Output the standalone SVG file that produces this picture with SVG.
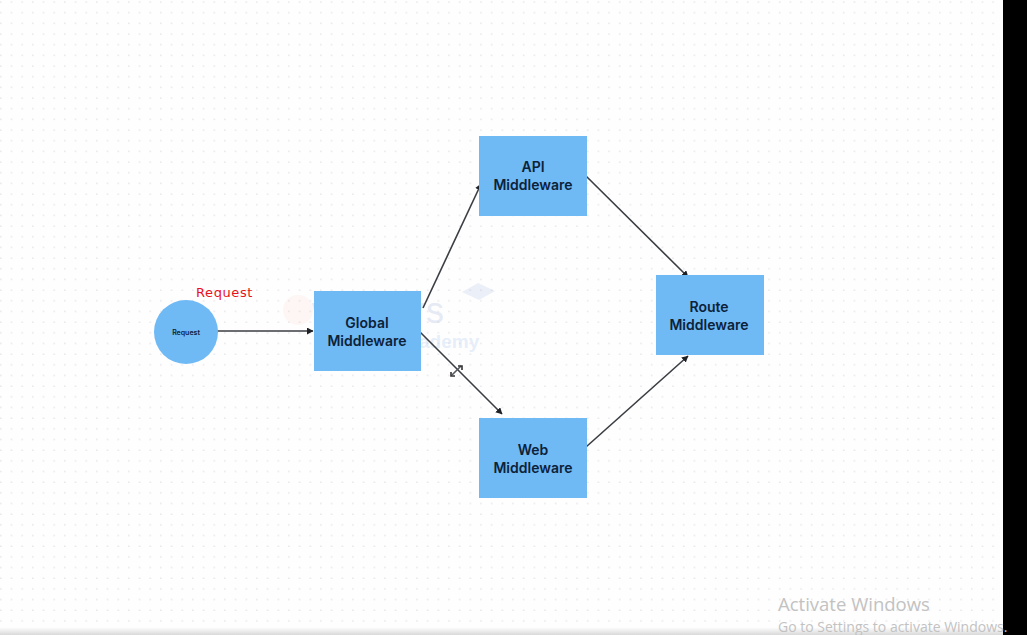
<svg xmlns="http://www.w3.org/2000/svg" width="1027" height="635" viewBox="0 0 1027 635">
<style>
.box{fill:#6fb9f5}
.lbl{font-family:"Inter","Liberation Sans",sans-serif;font-size:14px;font-weight:600;fill:#0d2238;text-anchor:middle}
.edge{fill:none;stroke:#3a3d42;stroke-width:1.6;marker-end:url(#arr)}
</style>
<defs>
<pattern id="dots" width="10.67" height="10.67" patternUnits="userSpaceOnUse" x="0" y="-3">
<circle cx="0.8" cy="5" r="0.9" fill="#e9e6ec"/>
</pattern>
<marker id="arr" markerWidth="8" markerHeight="8" refX="6" refY="3.5" orient="auto" markerUnits="userSpaceOnUse">
<path d="M0 0L6.5 3.5L0 7z" fill="#1e2126"/>
</marker>
<linearGradient id="band" x1="0" y1="0" x2="0" y2="1">
<stop offset="0" stop-color="#ffffff"/>
<stop offset="1" stop-color="#d9d9d9"/>
</linearGradient>
</defs>
<rect width="1027" height="635" fill="#fefefe"/>
<rect width="1003" height="635" fill="url(#dots)"/>
<g id="watermark" opacity="0.16">
<circle cx="298" cy="310" r="15" fill="#f3b49a" opacity="0.6"/>
<path d="M462 292L478 283L495 291L479 300z" fill="#8fa6dc"/>
<text x="379" y="323" font-family="Liberation Sans,sans-serif" font-size="36" fill="#6f86c9" text-anchor="middle" letter-spacing="2">wedevs</text>
<text x="437" y="348" font-family="Liberation Sans,sans-serif" font-size="19" font-weight="700" fill="#6f9fe0" text-anchor="middle">Academy</text>
</g>
<g id="connectors">
<line class="edge" x1="212" y1="331" x2="313" y2="331"/>
<line class="edge" x1="423" y1="308" x2="481" y2="184"/>
<line class="edge" x1="416" y1="328" x2="502" y2="414"/>
<line class="edge" x1="586" y1="176" x2="688" y2="277"/>
<line class="edge" x1="586" y1="447" x2="688" y2="356"/>
</g>
<g id="node-request">
<circle class="box" cx="186" cy="332" r="32"/>
<text x="186" y="334.500" font-family="Inter,Liberation Sans,sans-serif" font-size="7" font-weight="600" fill="#0d2238" text-anchor="middle">Request</text>
</g>
<text id="request-label" x="196" y="297" font-family="DejaVu Sans,sans-serif" font-size="13" letter-spacing="0.6" fill="#e8121a">Request</text>
<g id="node-global">
<rect class="box" x="314" y="291" width="107" height="80"/>
<text class="lbl" x="367" y="328">Global</text>
<text class="lbl" x="367" y="346">Middleware</text>
</g>
<g id="node-api">
<rect class="box" x="479" y="136" width="108" height="80"/>
<text class="lbl" x="533" y="172">API</text>
<text class="lbl" x="533" y="190">Middleware</text>
</g>
<g id="node-web">
<rect class="box" x="479" y="418" width="108" height="80"/>
<text class="lbl" x="533" y="455">Web</text>
<text class="lbl" x="533" y="473">Middleware</text>
</g>
<g id="node-route">
<rect class="box" x="656" y="275" width="108" height="80"/>
<text class="lbl" x="709" y="312">Route</text>
<text class="lbl" x="709" y="330">Middleware</text>
</g>
<g id="cursor" stroke="#55585c" stroke-width="1.6" fill="none">
<path d="M452 375L461 366"/>
<path d="M451 372V376H455M458 366H462V370" stroke="#333"/>
</g>
<rect x="0" y="627" width="1003" height="8" fill="url(#band)"/>
<rect x="1003" y="0" width="24" height="635" fill="#000"/>
<g font-family="Open Sans,Liberation Sans,sans-serif" fill="#c2c2c2">
<text x="778" y="611" font-size="18.500">Activate Windows</text>
<text x="778" y="632" font-size="14">Go to Settings to activate Windows.</text>
</g>
</svg>
